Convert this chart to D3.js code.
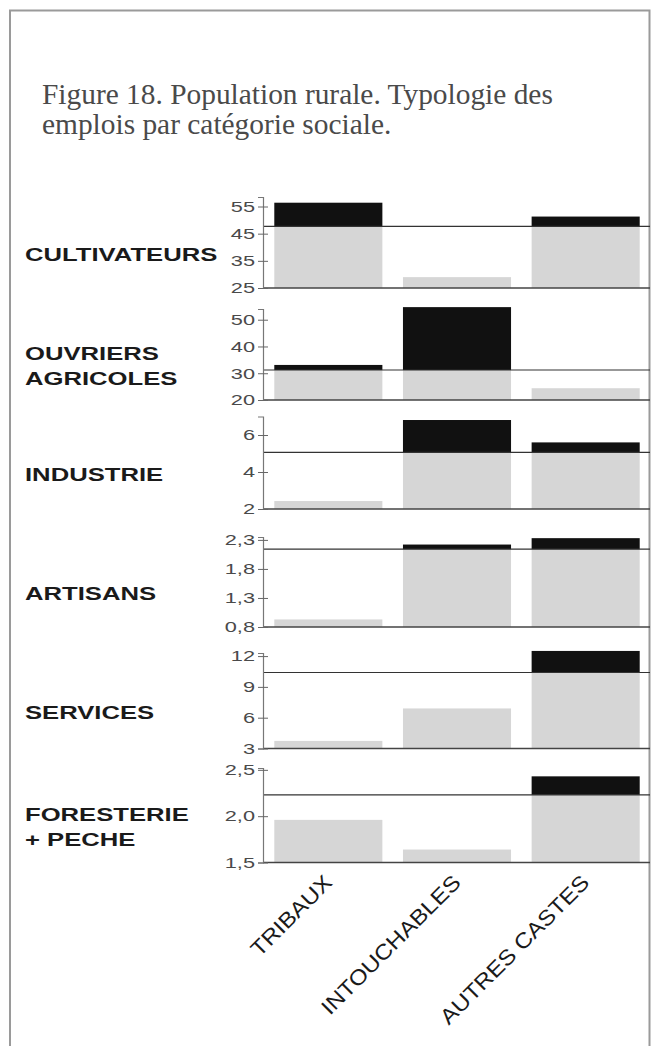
<!DOCTYPE html>
<html>
<head>
<meta charset="utf-8">
<script src="https://cdn.jsdelivr.net/npm/d3@7"></script>
<style>
  body { margin: 0; background: #fff; }
  svg { display: block; }
</style>
</head>
<body>
<svg id="chart" width="651" height="1046"></svg>
<script>
// categories and series
const categories = ['TRIBAUX', 'INTOUCHABLES', 'AUTRES CASTES']
const groupLabels = [['CULTIVATEURS'], ['OUVRIERS', 'AGRICOLES'], ['INDUSTRIE'], ['ARTISANS'], ['SERVICES'], ['FORESTERIE', '+ PECHE']]
const values = [
  [56.4, 29.0, 51.3],
  [33.1, 54.7, 24.4],
  [2.43, 6.81, 5.6],
  [0.93, 2.22, 2.33],
  [3.74, 6.9, 12.5],
  [1.96, 1.64, 2.43]
]
const means = [47.7, 31.2, 5.06, 2.14, 10.4, 2.23]
const axisMin = [25, 20, 2, 0.8, 3, 1.5]
const axisMax = [58.5, 54, 7, 2.35, 12.3, 2.52]
const tickValues = [[25, 35, 45, 55], [20, 30, 40, 50], [2, 4, 6], [0.8, 1.3, 1.8, 2.3], [3, 6, 9, 12], [1.5, 2.0, 2.5]]
const tickDecimals = [0, 0, 0, 1, 0, 1]

// layout (pixels)
const panelBottom = [288, 400, 509, 627, 748.5, 862.5]
const panelTop = [197, 309, 416.5, 537, 653, 768]
const axisX = 263
const rightX = 650

const svg = d3.select('#chart')

// frame
svg.append('path')
  .attr('d', `M10,1046 V10.5 H649.5 V1046`)
  .attr('fill', 'none')
  .attr('stroke', '#9a9a9a')
  .attr('stroke-width', 2)

// title
const title = svg.append('text')
  .attr('font-family', "'Liberation Serif', 'Times New Roman', serif")
  .attr('font-size', 29.4)
  .attr('fill', '#4a4a4a')
title.append('tspan').attr('x', 42).attr('y', 104).text('Figure 18. Population rurale. Typologie des')
title.append('tspan').attr('x', 42).attr('y', 134).text('emplois par catégorie sociale.')

const x = d3.scaleBand()
  .domain(categories)
  .range([264, rightX])
  .paddingInner(0.16)
  .paddingOuter(0.08)

const tickScaleX = 1.45
const labelScaleX = 1.35

values.forEach(function (row, i) {
  const y = d3.scaleLinear()
    .domain([axisMin[i], axisMax[i]])
    .range([panelBottom[i], panelTop[i]])
  const g = svg.append('g')
  const mean = means[i]

  // grey part: up to value or mean, whichever is lower
  g.selectAll('rect.low')
    .data(row)
    .enter()
    .append('rect')
    .attr('class', 'low')
    .attr('x', function (d, j) { return x(categories[j]) })
    .attr('width', x.bandwidth())
    .attr('y', function (d) { return y(Math.min(d, mean)) })
    .attr('height', function (d) { return y(axisMin[i]) - y(Math.min(d, mean)) })
    .attr('fill', '#d6d6d6')

  // black part: above the mean
  g.selectAll('rect.high')
    .data(row.map(function (d, j) { return { v: d, c: categories[j] } }).filter(function (d) { return d.v > mean }))
    .enter()
    .append('rect')
    .attr('class', 'high')
    .attr('x', function (d) { return x(d.c) })
    .attr('width', x.bandwidth())
    .attr('y', function (d) { return y(d.v) })
    .attr('height', function (d) { return y(mean) - y(d.v) })
    .attr('fill', '#111')

  // mean line
  g.append('line')
    .attr('x1', axisX).attr('x2', rightX)
    .attr('y1', y(mean)).attr('y2', y(mean))
    .attr('stroke', '#333')
    .attr('stroke-width', 1.2)

  // baseline
  g.append('line')
    .attr('x1', axisX).attr('x2', rightX)
    .attr('y1', y(axisMin[i])).attr('y2', y(axisMin[i]))
    .attr('stroke', '#444')
    .attr('stroke-width', 1.3)

  // y axis
  const fmt = d3.format('.' + tickDecimals[i] + 'f')
  const axis = g.append('g')
    .attr('transform', `translate(${axisX},0)`)
    .call(d3.axisLeft(y)
      .tickValues(tickValues[i])
      .tickSizeOuter(0)
      .tickSize(5)
      .tickFormat(function (d) { return fmt(d).replace('.', ',') }))
  axis.select('.domain').attr('stroke', '#777').attr('stroke-width', 1.2)
  axis.selectAll('.tick line').attr('x1', 5).attr('x2', -5).attr('stroke', '#666')
  axis.selectAll('.tick text')
    .attr('font-family', "'Liberation Sans', Arial, sans-serif")
    .attr('font-size', 15)
    .attr('fill', '#4a4a4a')
    .attr('x', -8 / tickScaleX)
    .attr('transform', `scale(${tickScaleX},1)`)

  // group label
  const cy = (panelTop[i] + panelBottom[i]) / 2 + 18
  const lines = groupLabels[i]
  const lab = g.append('text')
    .attr('transform', `translate(25,${cy - (lines.length - 1) * 12.75}) scale(${labelScaleX},1)`)
    .attr('font-family', "'Liberation Sans', Arial, sans-serif")
    .attr('font-weight', 'bold')
    .attr('font-size', 19)
    .attr('fill', '#1a1a1a')
  lines.forEach(function (t, k) {
    lab.append('tspan').attr('x', 0).attr('y', k * 25.5).text(t)
  })
})

// category labels, rotated
svg.append('g')
  .selectAll('text')
  .data(categories)
  .enter()
  .append('text')
  .attr('transform', function (d) {
    return `translate(${x(d) + x.bandwidth() / 2 + 5},884) rotate(-45) scale(1.12,1)`
  })
  .attr('text-anchor', 'end')
  .attr('font-family', "'Liberation Sans', Arial, sans-serif")
  .attr('font-size', 21.5)
  .attr('fill', '#1a1a1a')
  .text(function (d) { return d })
</script>
</body>
</html>
